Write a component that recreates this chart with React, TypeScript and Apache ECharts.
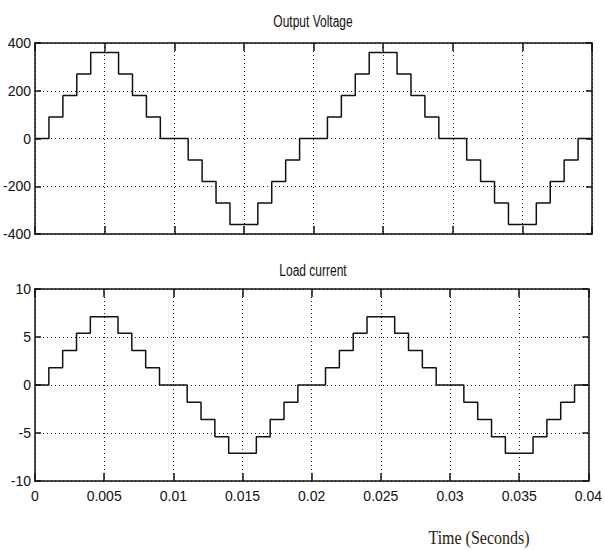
import React, { useEffect, useRef } from "react";
import * as echarts from "echarts";

const TIME = [
  0, 0.001, 0.002, 0.003, 0.004, 0.005, 0.006, 0.007, 0.008, 0.009,
  0.01, 0.011, 0.012, 0.013, 0.014, 0.015, 0.016, 0.017, 0.018, 0.019,
  0.02, 0.021, 0.022, 0.023, 0.024, 0.025, 0.026, 0.027, 0.028, 0.029,
  0.03, 0.031, 0.032, 0.033, 0.034, 0.035, 0.036, 0.037, 0.038, 0.039,
  0.04,
];

const VOLTAGE = [
  0, 90, 180, 270, 360, 360, 270, 180, 90, 0,
  0, -90, -180, -270, -360, -360, -270, -180, -90, 0,
  0, 90, 180, 270, 360, 360, 270, 180, 90, 0,
  0, -90, -180, -270, -360, -360, -270, -180, -90, 0,
  0,
];

const CURRENT = [
  0, 1.8, 3.6, 5.4, 7.1, 7.1, 5.4, 3.6, 1.8, 0,
  0, -1.8, -3.6, -5.4, -7.1, -7.1, -5.4, -3.6, -1.8, 0,
  0, 1.8, 3.6, 5.4, 7.1, 7.1, 5.4, 3.6, 1.8, 0,
  0, -1.8, -3.6, -5.4, -7.1, -7.1, -5.4, -3.6, -1.8, 0,
  0,
];

const TITLES = ["Output Voltage", "Load current"];
const X_LABEL = "Time (Seconds)";

const SANS = "'Liberation Sans', Arial, sans-serif";

export default function App() {
  const ref = useRef<HTMLDivElement>(null);

  useEffect(() => {
    if (!ref.current) return;
    const chart = echarts.init(ref.current, null, { renderer: "svg" });

    const frame = { show: true, lineStyle: { color: "#111", width: 1.5 } };
    const dotted = { show: true, lineStyle: { color: "#222", width: 1, type: [1, 3] as any } };

    const xAxisBase = (gridIndex: number, pos: "bottom" | "top", labels: boolean, grid: boolean) => ({
      type: "value" as const,
      gridIndex,
      position: pos,
      min: 0,
      max: 0.04,
      interval: 0.005,
      axisLine: { ...frame, onZero: false },
      axisTick: { show: true, inside: true, length: 8, lineStyle: { color: "#111", width: 1.5 } },
      axisLabel: {
        show: labels,
        fontFamily: SANS,
        fontSize: 14,
        color: "#111",
        margin: 8,
        showMaxLabel: true,
        showMinLabel: true,
      },
      splitLine: grid ? dotted : { show: false },
    });

    const yAxisBase = (
      gridIndex: number,
      pos: "left" | "right",
      labels: boolean,
      grid: boolean,
      min: number,
      max: number,
      interval: number
    ) => ({
      type: "value" as const,
      gridIndex,
      position: pos,
      min,
      max,
      interval,
      axisLine: { ...frame, onZero: false },
      axisTick: { show: true, inside: true, length: 6, lineStyle: { color: "#111", width: 1.5 } },
      axisLabel: {
        show: labels,
        fontFamily: SANS,
        fontSize: 14,
        color: "#111",
        margin: 4,
      },
      splitLine: grid ? dotted : { show: false },
    });

    chart.setOption({
      animation: false,
      backgroundColor: "#fff",
      graphic: [
        {
          type: "text",
          x: 313,
          y: 21,
          scaleY: 1.3,
          style: {
            text: TITLES[0],
            align: "center",
            verticalAlign: "middle",
            font: `12px ${SANS}`,
            fill: "#111",
          },
        },
        {
          type: "text",
          x: 313,
          y: 270,
          scaleY: 1.3,
          style: {
            text: TITLES[1],
            align: "center",
            verticalAlign: "middle",
            font: `12px ${SANS}`,
            fill: "#111",
          },
        },
        {
          type: "text",
          x: 479,
          y: 537,
          scaleY: 1.2,
          style: {
            text: X_LABEL,
            align: "center",
            verticalAlign: "middle",
            font: "16px 'Liberation Serif', 'DejaVu Serif', serif",
            fill: "#2a1a12",
          },
        },
      ],
      grid: [
        { left: 35, top: 43, width: 557, height: 191 },
        { left: 35, top: 289, width: 557, height: 192 },
      ],
      xAxis: [
        xAxisBase(0, "bottom", false, true),
        xAxisBase(0, "top", false, false),
        xAxisBase(1, "bottom", true, true),
        xAxisBase(1, "top", false, false),
      ],
      yAxis: [
        yAxisBase(0, "left", true, true, -400, 400, 200),
        yAxisBase(0, "right", false, false, -400, 400, 200),
        yAxisBase(1, "left", true, true, -10, 10, 5),
        yAxisBase(1, "right", false, false, -10, 10, 5),
      ],
      series: [
        {
          type: "line",
          xAxisIndex: 0,
          yAxisIndex: 0,
          step: "end",
          showSymbol: false,
          lineStyle: { color: "#111", width: 1.5 },
          data: TIME.map((t, i) => [t, VOLTAGE[i]]),
        },
        {
          type: "line",
          xAxisIndex: 2,
          yAxisIndex: 2,
          step: "end",
          showSymbol: false,
          lineStyle: { color: "#111", width: 1.5 },
          data: TIME.map((t, i) => [t, CURRENT[i]]),
        },
      ],
    });

    return () => chart.dispose();
  }, []);

  return (
    <div
      ref={ref}
      style={{ position: "fixed", left: 0, top: 0, width: 605, height: 551, background: "#fff" }}
    />
  );
}
